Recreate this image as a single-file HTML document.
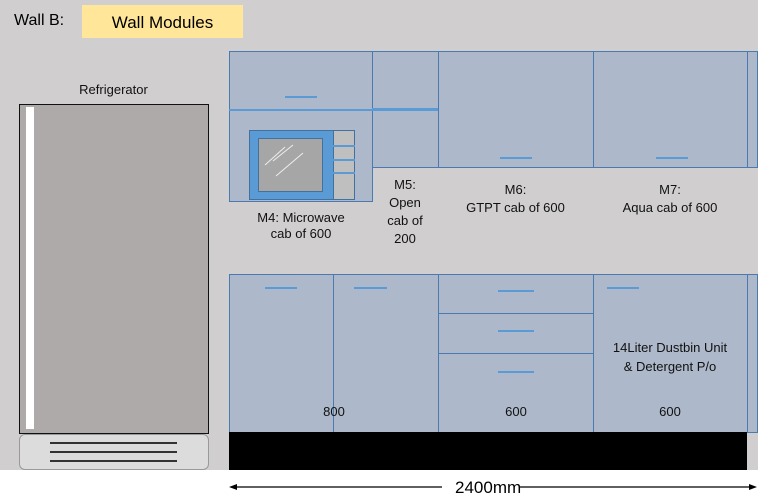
<!DOCTYPE html><html><head><style>
body{margin:0;width:758px;height:502px;position:relative;background:#fff;font-family:"Liberation Sans",sans-serif;overflow:hidden}
div{position:absolute;box-sizing:border-box}
.c{background:#adb9ca;border:1px solid #4a7ab0}
.h{height:1.5px;background:#5b9bd5}
.t{font-size:13px;color:#111;text-align:center;line-height:16px}
</style></head><body>
<div style="left:0;top:0;width:758px;height:470px;background:#d0cecf"></div>
<div style="left:14px;top:12px;font-size:16px">Wall B:</div>
<div style="left:82px;top:5px;width:161px;height:33px;background:#ffe699;font-size:17px;text-align:center;line-height:35px">Wall Modules</div>
<div class="t" style="left:19px;top:82px;width:189px">Refrigerator</div>
<div style="left:19px;top:104px;width:190px;height:330px;background:#aeaaaa;border:1.5px solid #111"></div>
<div style="left:26px;top:107px;width:8px;height:322px;background:#fff"></div>
<div style="left:19px;top:434px;width:190px;height:36px;background:#dcdcdc;border:1px solid #999;border-radius:6px"></div>
<div style="left:50px;top:442px;width:127px;height:1.5px;background:#333"></div>
<div style="left:50px;top:451px;width:127px;height:1.5px;background:#333"></div>
<div style="left:50px;top:460px;width:127px;height:1.5px;background:#333"></div>
<div class="c" style="left:229px;top:51px;width:144px;height:151px"></div>
<div class="h" style="left:229px;top:109px;width:144px"></div>
<div class="h" style="left:285px;top:96px;width:32px"></div>
<div style="left:249px;top:130px;width:106px;height:70px;background:#5b9bd5;border:1px solid #41719c"></div>
<div style="left:258px;top:138px;width:65px;height:54px;background:#a6a6a6;border:1px solid #41719c"></div>
<svg style="position:absolute;left:258px;top:138px" width="65" height="54"><g stroke="#eee" stroke-width="1"><line x1="7" y1="27" x2="27" y2="9"/><line x1="15" y1="23" x2="35" y2="7"/><line x1="18" y1="38" x2="45" y2="15"/></g></svg>
<div style="left:333px;top:130px;width:22px;height:70px;background:#bfbfbf;border:1px solid #41719c"></div>
<div class="h" style="left:333px;top:145px;width:22px"></div>
<div class="h" style="left:333px;top:159px;width:22px"></div>
<div class="h" style="left:333px;top:172px;width:22px"></div>
<div class="c" style="left:372px;top:51px;width:67px;height:117px"></div>
<div style="left:372px;top:108px;width:67px;height:3px;background:#5b9bd5"></div>
<div class="c" style="left:438px;top:51px;width:156px;height:117px"></div>
<div class="h" style="left:500px;top:157px;width:32px"></div>
<div class="c" style="left:593px;top:51px;width:155px;height:117px"></div>
<div class="h" style="left:656px;top:157px;width:32px"></div>
<div class="c" style="left:747px;top:51px;width:11px;height:117px"></div>
<div class="t" style="left:229px;top:210px;width:144px">M4: Microwave<br>cab of 600</div>
<div class="t" style="left:372px;top:176px;width:66px;line-height:18px">M5:<br>Open<br>cab of<br>200</div>
<div class="t" style="left:438px;top:181px;width:155px;line-height:18px">M6:<br>GTPT cab of 600</div>
<div class="t" style="left:593px;top:181px;width:154px;line-height:18px">M7:<br>Aqua cab of 600</div>
<div class="c" style="left:229px;top:274px;width:105px;height:159px"></div>
<div class="c" style="left:333px;top:274px;width:106px;height:159px"></div>
<div class="c" style="left:438px;top:274px;width:156px;height:40px"></div>
<div class="c" style="left:438px;top:313px;width:156px;height:41px"></div>
<div class="c" style="left:438px;top:353px;width:156px;height:80px"></div>
<div class="c" style="left:593px;top:274px;width:155px;height:159px"></div>
<div class="c" style="left:747px;top:274px;width:11px;height:159px"></div>
<div class="h" style="left:265px;top:287px;width:32px"></div>
<div class="h" style="left:354px;top:287px;width:33px"></div>
<div class="h" style="left:498px;top:290px;width:36px"></div>
<div class="h" style="left:498px;top:330px;width:36px"></div>
<div class="h" style="left:498px;top:371px;width:36px"></div>
<div class="h" style="left:607px;top:287px;width:32px"></div>
<div class="t" style="left:593px;top:338px;width:154px;line-height:19px">14Liter Dustbin Unit<br>&amp; Detergent P/o</div>
<div class="t" style="left:284px;top:404px;width:100px">800</div>
<div class="t" style="left:466px;top:404px;width:100px">600</div>
<div class="t" style="left:620px;top:404px;width:100px">600</div>
<div style="left:229px;top:432px;width:518px;height:38px;background:#000"></div>
<svg style="position:absolute;left:0;top:0" width="758" height="502"><g stroke="#000" stroke-width="1.2"><line x1="232" y1="487" x2="442" y2="487"/><line x1="520" y1="487" x2="754" y2="487"/></g><polygon points="229,487 237,484 237,490" fill="#000"/><polygon points="757,487 749,484 749,490" fill="#000"/></svg>
<div style="left:442px;top:478px;width:90px;font-size:17px;line-height:20px;text-align:left;padding-left:13px">2400mm</div>
</body></html>
